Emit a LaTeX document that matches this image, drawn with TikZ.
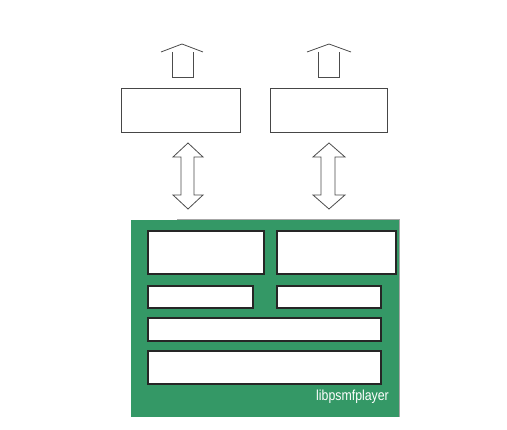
\documentclass[tikz,border=0pt]{standalone}
\usepackage{fontspec}
\setmainfont{Liberation Sans}
\definecolor{boxgreen}{RGB}{52,152,102}
\definecolor{edgegray}{RGB}{70,70,70}
\begin{document}
\begin{tikzpicture}[x=1pt,y=-1pt,
  topbox/.style={draw=edgegray,line width=0.9pt,fill=white},
  innerbox/.style={draw=black!85,line width=1.1pt,fill=white},
  arrowshape/.style={draw=gray!60!black,line width=0.8pt,fill=white,line join=miter}]
\useasboundingbox (0,0) rectangle (507,430);
% top boxes
\draw[topbox] (121,88) rectangle (240,132);
\node[inner sep=0] (tl) at (180.5,110) {};
\draw[topbox] (270,88) rectangle (387,132);
\node[inner sep=0] (tr) at (328.5,110) {};
% up arrows (open)
\draw[arrowshape,fill=none] (161,52) -- (182,44) -- (203,52);
\draw[arrowshape,fill=none] (172,52) -- (172,77) -- (193,77) -- (193,52);
\draw[arrowshape,fill=none] (307,52) -- (329,44) -- (351,52);
\draw[arrowshape,fill=none] (318,52) -- (318,77) -- (339,77) -- (339,52);
% double arrows
\draw[arrowshape] (188,143) -- (203,157) -- (194,157) -- (194,195) -- (203,195) -- (188,209)
  -- (173,195) -- (181,195) -- (181,157) -- (173,157) -- cycle;
\draw[arrowshape] (329,143) -- (345,157) -- (335,157) -- (335,195) -- (345,195) -- (329,209)
  -- (313,195) -- (321,195) -- (321,157) -- (313,157) -- cycle;
% green container
\fill[boxgreen] (131,220) rectangle (399,417);
\draw[gray!70,line width=0.8pt] (177,219.5) -- (399.5,219.5) -- (399.5,417);
\node[inner sep=0] (lib) at (265,318) {};
% inner boxes
\draw[innerbox] (148,231) rectangle (264,274);
\draw[innerbox] (277,231) rectangle (396,274);
\draw[innerbox] (148,286) rectangle (253,308);
\draw[innerbox] (277,286) rectangle (381,308);
\draw[innerbox] (148,318) rectangle (381,341);
\draw[innerbox] (148,351) rectangle (381,384);
\node[text=white,font=\fontsize{14.5}{16}\selectfont,anchor=base east,inner sep=0,xscale=0.85] (label) at (389,401) {libpsmfplayer};
\end{tikzpicture}
\end{document}
